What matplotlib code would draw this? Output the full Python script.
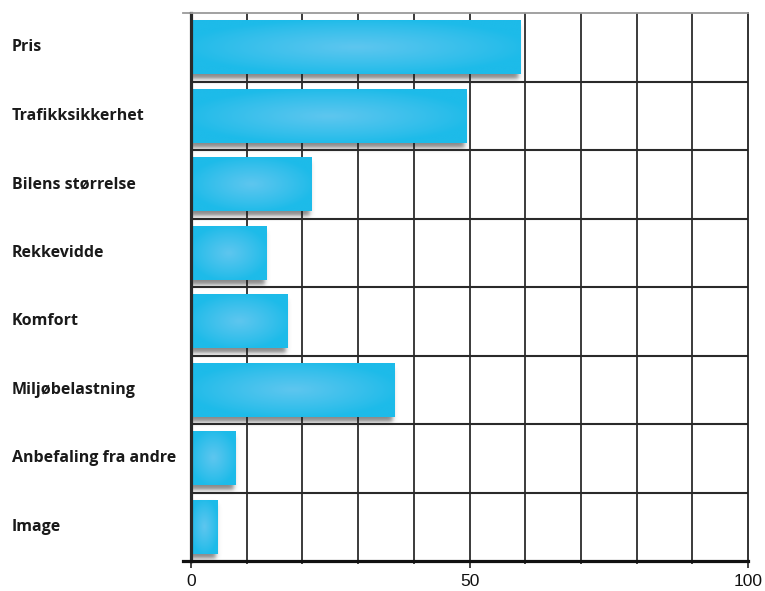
import numpy as np
import matplotlib
matplotlib.use("Agg")
import matplotlib.pyplot as plt
from matplotlib.lines import Line2D
from matplotlib.transforms import blended_transform_factory

# Survey data: importance of factors (0-100)
categories = ["Pris", "Trafikksikkerhet", "Bilens størrelse", "Rekkevidde",
              "Komfort", "Miljøbelastning", "Anbefaling fra andre", "Image"]
values = [59.2, 49.5, 21.7, 13.6, 17.4, 36.6, 8.0, 4.8]
x_major = [0, 50, 100]
x_minor = [0, 10, 20, 30, 40, 50, 60, 70, 80, 90, 100]

W, H = 765, 591
fig = plt.figure(figsize=(W / 100, H / 100), dpi=100)
fig.patch.set_facecolor("white")

L, R, T, B = 191, 748, 13, 561
ax = fig.add_axes([L / W, 1 - B / H, (R - L) / W, (B - T) / H])
n = len(categories)
ys = np.arange(n)

px_x = (R - L) / 100.0
px_y = (B - T) / n

bar_h = 54 / px_y
edge_col = np.array([29, 187, 233]) / 255
center_col = np.array([94, 198, 239]) / 255

bars = ax.barh(ys, values, height=bar_h, color=edge_col, zorder=3, linewidth=0)


def sig(z):
    return 1.0 / (1.0 + np.exp(-z))


for patch in bars.patches:
    x0, y0 = patch.get_x(), patch.get_y()
    w, h = patch.get_width(), patch.get_height()

    # soft drop shadow below the bar
    sx0, sx1 = x0 - 2 / px_x, x0 + w - 2 / px_x
    sy0, sy1 = y0 + 5 / px_y, y0 + h + 5 / px_y
    pad_x, pad_y = 8 / px_x, 8 / px_y
    gx = np.linspace(sx0 - pad_x, sx1 + pad_x, 300)
    gy = np.linspace(sy0 - pad_y, sy1 + pad_y, 120)
    GX, GY = np.meshgrid(gx, gy)
    s_x, s_y = 1.3 / px_x, 1.3 / px_y
    alpha = (sig((GX - sx0) / s_x) * sig((sx1 - GX) / s_x)
             * sig((GY - sy0) / s_y) * sig((sy1 - GY) / s_y))
    rgba = np.zeros(GX.shape + (4,))
    rgba[..., :3] = 0.25
    rgba[..., 3] = alpha * 0.62
    ax.imshow(rgba, extent=(gx[0], gx[-1], gy[-1], gy[0]), aspect="auto",
              interpolation="bilinear", zorder=1)

    # radial highlight on the bar face
    u = np.linspace(-1, 1, 240)
    v = np.linspace(-1, 1, 80)
    U, V = np.meshgrid(u, v)
    r = np.sqrt(U ** 2 + V ** 2)
    t = np.clip(1 - r / 1.05, 0, 1) ** 0.9
    img = edge_col + (center_col - edge_col) * t[..., None]
    im = ax.imshow(img, extent=(x0, x0 + w, y0 + h, y0), aspect="auto",
                   interpolation="bilinear", zorder=4)
    im.set_clip_path(patch)

# grid
for xv in x_minor[1:-1]:
    ax.axvline(xv, color="#1a1a1a", lw=1.2, zorder=2)
for k in range(n - 1):
    ax.axhline(k + 0.5, color="#2a2a2a", lw=1.5, zorder=2)

ax.set_xlim(0, 100)
ax.set_ylim(n - 0.5, -0.5)

for side, c, lw in [("left", "#2a2a2a", 2.3), ("bottom", "#111111", 2.3),
                    ("top", "#9a9a9a", 1.3), ("right", "#222222", 1.3)]:
    ax.spines[side].set_color(c)
    ax.spines[side].set_linewidth(lw)
    ax.spines[side].set_zorder(6)

# short extensions of top and bottom lines to the left of the axis
ext = -8 / (R - L)
ax.add_line(Line2D([ext, 0], [1, 1], transform=ax.transAxes, color="#9a9a9a",
                   lw=1.3, clip_on=False))
ax.add_line(Line2D([ext, 0], [0, 0], transform=ax.transAxes, color="#111111",
                   lw=2.3, clip_on=False))

ax.set_xticks(x_major)
ax.set_xticks(x_minor, minor=True)
ax.set_xticklabels([str(v) for v in x_major], family="Liberation Sans",
                   fontsize=12.5, color="#111111")
ax.tick_params(axis="x", which="major", length=5, width=1.1, color="#111111",
               direction="out", pad=4)
ax.tick_params(axis="x", which="minor", length=2.5, width=1.1, color="#111111",
               direction="out")
ax.set_yticks([])

# category labels, left aligned at the figure edge
lab_tr = blended_transform_factory(fig.transFigure, ax.transData)
for yi, name in zip(ys, categories):
    ax.text(12 / W, yi, name, transform=lab_tr, ha="left", va="center",
            family="Open Sans", fontweight="bold", fontsize=11.5,
            color="#1a1a1a")

fig.savefig("out.png", dpi=100)
